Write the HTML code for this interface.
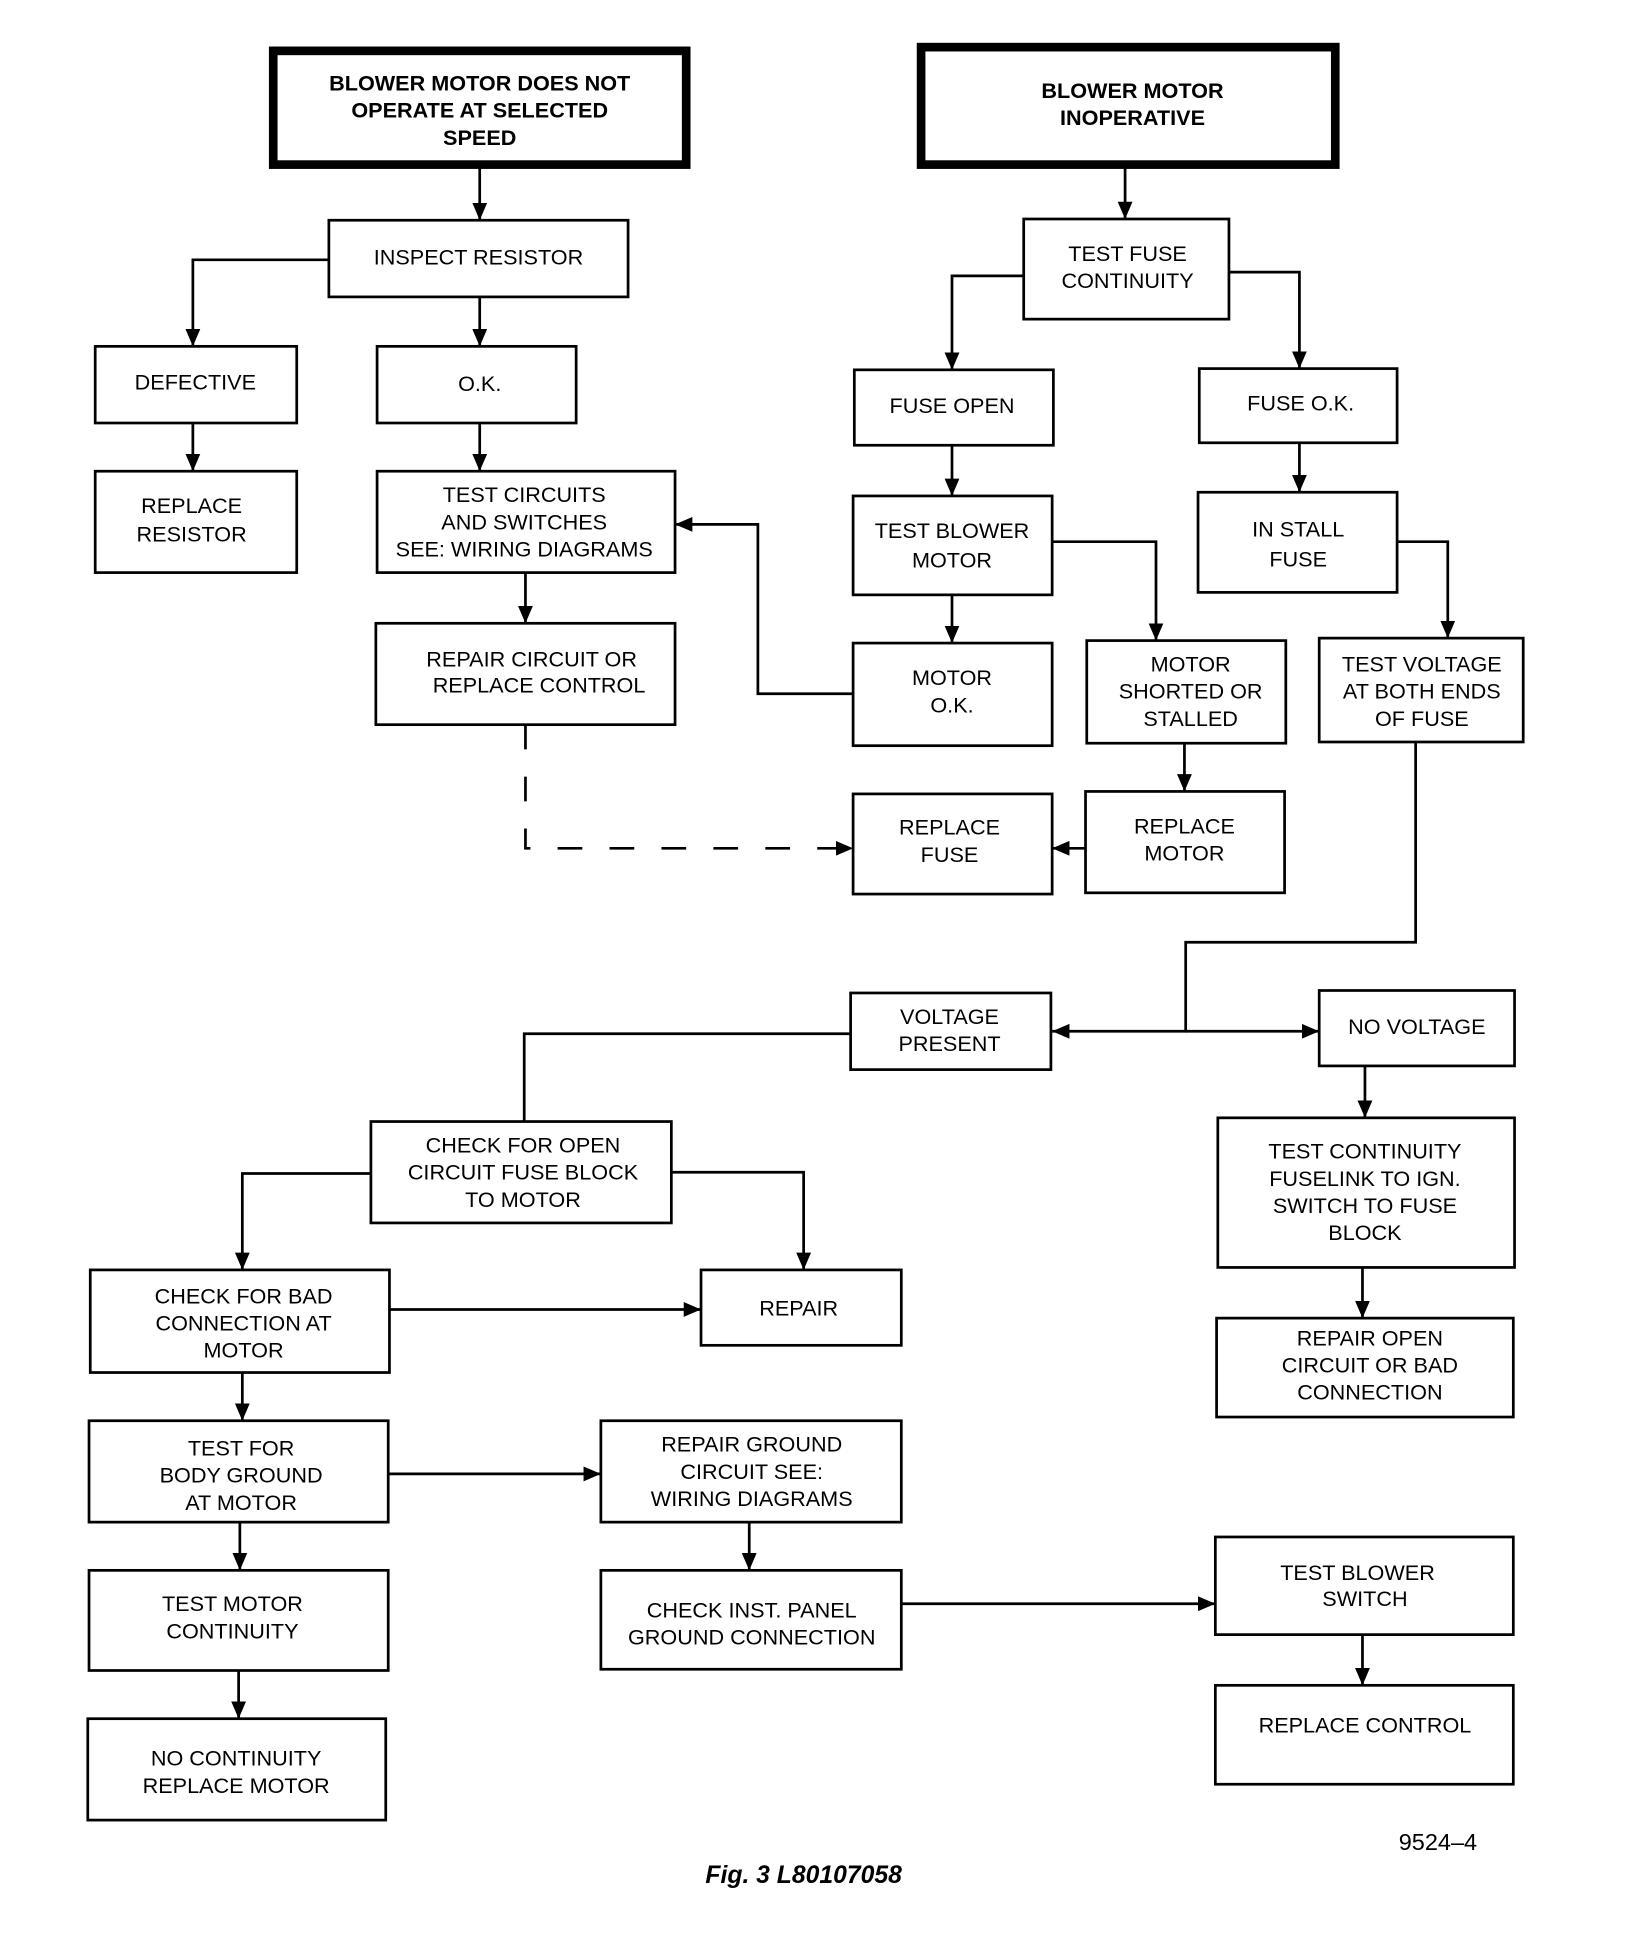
<!DOCTYPE html>
<html><head><meta charset="utf-8"><style>
html,body{margin:0;padding:0;background:#fff;}
svg{display:block;}
text{font-family:"Liberation Sans Narrow","Liberation Sans",sans-serif;font-size:17.5px;fill:#000;text-anchor:middle;}
.b{font-weight:bold;}
</style></head><body>
<svg width="1632" height="1934" viewBox="0 0 1320 1564" xmlns="http://www.w3.org/2000/svg">
<defs><marker id="a" markerWidth="10" markerHeight="10" refX="9" refY="5" orient="auto" markerUnits="userSpaceOnUse"><path d="M0,1 L10,5 L0,9 Z" fill="#000"/></marker>
<marker id="m" viewBox="0 0 14 12" markerWidth="14" markerHeight="12" refX="14" refY="6" orient="auto" markerUnits="userSpaceOnUse"><path d="M0,0 L14,6 L0,12 Z" fill="#000"/></marker></defs>
<g fill="none" stroke="#000" stroke-width="7">
<rect x="221" y="41" width="334" height="92"/>
<rect x="745" y="38" width="335" height="95"/>
</g>
<g fill="none" stroke="#000" stroke-width="2.2">
<rect x="266" y="178" width="242" height="62"/>
<rect x="77" y="280" width="163" height="62"/>
<rect x="305" y="280" width="161" height="62"/>
<rect x="77" y="381" width="163" height="82"/>
<rect x="305" y="381" width="241" height="82"/>
<rect x="304" y="504" width="242" height="82"/>
<rect x="828" y="177" width="166" height="81"/>
<rect x="691" y="299" width="161" height="61"/>
<rect x="970" y="298" width="160" height="60"/>
<rect x="690" y="401" width="161" height="80"/>
<rect x="690" y="520" width="161" height="83"/>
<rect x="879" y="518" width="161" height="83"/>
<rect x="878" y="640" width="161" height="82"/>
<rect x="690" y="642" width="161" height="81"/>
<rect x="969" y="398" width="161" height="81"/>
<rect x="1067" y="516" width="165" height="84"/>
<rect x="688" y="803" width="162" height="62"/>
<rect x="1067" y="801" width="158" height="61"/>
<rect x="300" y="907" width="243" height="82"/>
<rect x="73" y="1027" width="242" height="83"/>
<rect x="567" y="1027" width="162" height="61"/>
<rect x="72" y="1149" width="242" height="82"/>
<rect x="486" y="1149" width="243" height="82"/>
<rect x="72" y="1270" width="242" height="81"/>
<rect x="486" y="1270" width="243" height="80"/>
<rect x="71" y="1390" width="241" height="82"/>
<rect x="985" y="904" width="240" height="121"/>
<rect x="984" y="1066" width="240" height="80"/>
<rect x="983" y="1243" width="241" height="79"/>
<rect x="983" y="1363" width="241" height="80"/>
</g>
<g fill="none" stroke="#000" stroke-width="2.2" marker-end="url(#m)">
<path d="M388 136V178"/>
<path d="M910 136V177"/>
<path d="M266 210H156V280"/>
<path d="M388 240V280"/>
<path d="M156 342V381"/>
<path d="M388 342V381"/>
<path d="M425 463V504"/>
<path d="M425 586V686H690" stroke-dasharray="20,22"/>
<path d="M828 223H770V299"/>
<path d="M994 220H1051V298"/>
<path d="M770 360V401"/>
<path d="M851 438H935V518"/>
<path d="M770 481V520"/>
<path d="M690 561H613V424H546"/>
<path d="M958 601V640"/>
<path d="M878 686H851"/>
<path d="M1051 358V398"/>
<path d="M1130 438H1171V516"/>
<path d="M1145 600V762H959V834H851"/>
<path d="M959 834H1067"/>
<path d="M300 949H196V1027"/>
<path d="M543 948H650V1027"/>
<path d="M315 1059H567"/>
<path d="M196 1110V1149"/>
<path d="M314 1192H486"/>
<path d="M606 1231V1270"/>
<path d="M729 1297H983"/>
<path d="M194 1231V1270"/>
<path d="M193 1351V1390"/>
<path d="M1104 862V904"/>
<path d="M1102 1025V1066"/>
<path d="M1102 1322V1363"/>
</g>
<path d="M688 836H424V907" fill="none" stroke="#000" stroke-width="2.2"/>
<g class="b">
<text x="388" y="73" class="b">BLOWER MOTOR DOES NOT</text>
<text x="388" y="95" class="b">OPERATE AT SELECTED</text>
<text x="388" y="117" class="b">SPEED</text>
<text x="916" y="79" class="b">BLOWER MOTOR</text>
<text x="916" y="101" class="b">INOPERATIVE</text>
</g>
<text x="387" y="214">INSPECT RESISTOR</text>
<text x="158" y="315">DEFECTIVE</text>
<text x="388" y="316">O.K.</text>
<text x="155" y="415">REPLACE</text><text x="155" y="438">RESISTOR</text>
<text x="424" y="406">TEST CIRCUITS</text><text x="424" y="428">AND SWITCHES</text><text x="424" y="450">SEE:  WIRING DIAGRAMS</text>
<text x="430" y="539">REPAIR CIRCUIT OR</text><text x="436" y="560">REPLACE CONTROL</text>
<text x="912" y="211">TEST FUSE</text><text x="912" y="233">CONTINUITY</text>
<text x="770" y="334">FUSE OPEN</text>
<text x="1052" y="332">FUSE O.K.</text>
<text x="770" y="435">TEST BLOWER</text><text x="770" y="459">MOTOR</text>
<text x="770" y="554">MOTOR</text><text x="770" y="576">O.K.</text>
<text x="963" y="543">MOTOR</text><text x="963" y="565">SHORTED OR</text><text x="963" y="587">STALLED</text>
<text x="958" y="674">REPLACE</text><text x="958" y="696">MOTOR</text>
<text x="768" y="675">REPLACE</text><text x="768" y="697">FUSE</text>
<text x="1050" y="434">IN STALL</text><text x="1050" y="458">FUSE</text>
<text x="1150" y="543">TEST VOLTAGE</text><text x="1150" y="565">AT BOTH ENDS</text><text x="1150" y="587">OF FUSE</text>
<text x="768" y="828">VOLTAGE</text><text x="768" y="850">PRESENT</text>
<text x="1146" y="836">NO  VOLTAGE</text>
<text x="423" y="932">CHECK FOR OPEN</text><text x="423" y="954">CIRCUIT FUSE BLOCK</text><text x="423" y="976">TO MOTOR</text>
<text x="197" y="1054">CHECK FOR BAD</text><text x="197" y="1076">CONNECTION AT</text><text x="197" y="1098">MOTOR</text>
<text x="646" y="1064">REPAIR</text>
<text x="195" y="1177">TEST FOR</text><text x="195" y="1199">BODY GROUND</text><text x="195" y="1221">AT MOTOR</text>
<text x="608" y="1174">REPAIR GROUND</text><text x="608" y="1196">CIRCUIT SEE:</text><text x="608" y="1218">WIRING DIAGRAMS</text>
<text x="188" y="1303">TEST MOTOR</text><text x="188" y="1325">CONTINUITY</text>
<text x="608" y="1308">CHECK INST. PANEL</text><text x="608" y="1330">GROUND CONNECTION</text>
<text x="191" y="1428">NO  CONTINUITY</text><text x="191" y="1450">REPLACE MOTOR</text>
<text x="1104" y="937">TEST CONTINUITY</text><text x="1104" y="959">FUSELINK TO IGN.</text><text x="1104" y="981">SWITCH TO FUSE</text><text x="1104" y="1003">BLOCK</text>
<text x="1108" y="1088">REPAIR OPEN</text><text x="1108" y="1110">CIRCUIT OR BAD</text><text x="1108" y="1132">CONNECTION</text>
<text x="1098" y="1278">TEST BLOWER</text><text x="1104" y="1299">SWITCH</text>
<text x="1104" y="1401">REPLACE CONTROL</text>
<text x="1163" y="1496" style="font-size:19px">9524–4</text>
<text x="650" y="1523" style="font-size:20px;font-weight:bold;font-style:italic;font-family:'Liberation Sans',sans-serif">Fig. 3 L80107058</text>
</svg>
</body></html>
